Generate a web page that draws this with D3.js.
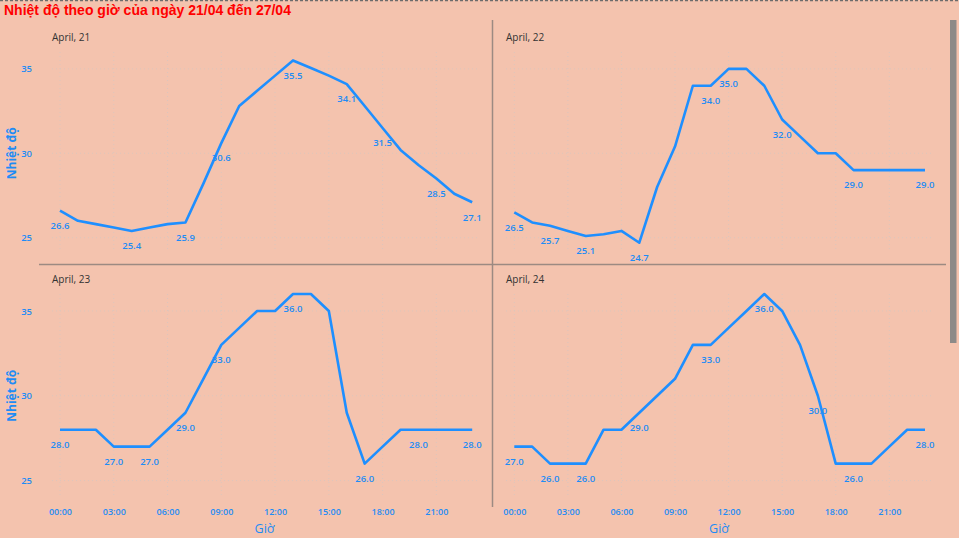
<!DOCTYPE html>
<html><head><meta charset="utf-8">
<script src="https://cdn.jsdelivr.net/npm/d3@7"></script>
<style>html,body{margin:0;padding:0;background:#F4C3AE;overflow:hidden}svg{display:block}</style>
</head><body>
<script>
// ---- data ----
const hours = [0,1,2,3,4,5,6,7,8,9,10,11,12,13,14,15,16,17,18,19,20,21,22,23];
const tickHours = [0,3,6,9,12,15,18,21];
const tickLabels = ["00:00","03:00","06:00","09:00","12:00","15:00","18:00","21:00"];
const yTicks = [25,30,35];
const dayTitles = ["April, 21","April, 22","April, 23","April, 24"];
const apr21 = [26.6,26.0,25.8,25.6,25.4,25.6,25.8,25.9,28.2,30.6,32.8,33.7,34.6,35.5,35.05,34.6,34.1,32.8,31.5,30.2,29.3,28.5,27.6,27.1];
const apr22 = [26.5,25.9,25.7,25.4,25.1,25.2,25.4,24.7,28.0,30.4,34.0,34.0,35.0,35.0,34.0,32.0,31.0,30.0,30.0,29.0,29.0,29.0,29.0,29.0];
const apr23 = [28.0,28.0,28.0,27.0,27.0,27.0,28.0,29.0,31.0,33.0,34.0,35.0,35.0,36.0,36.0,35.0,29.0,26.0,27.0,28.0,28.0,28.0,28.0,28.0];
const apr24 = [27.0,27.0,26.0,26.0,26.0,28.0,28.0,29.0,30.0,31.0,33.0,33.0,34.0,35.0,36.0,35.0,33.0,30.0,26.0,26.0,26.0,27.0,28.0,28.0];
const labels21 = [0,4,7,9,13,16,18,21,23];
const labels22 = [0,2,4,7,11,12,15,19,23];
const labels23 = [0,3,5,7,9,13,17,20,23];
const labels24 = [0,2,4,7,11,14,17,19,23];
const titleText = "Nhiệt độ theo giờ của ngày 21/04 đến 27/04";
const yAxisTitle = "Nhiệt độ";
const xAxisTitle = "Giờ";

// ---- layout ----
const W = 959, H = 538;
const BLUE = "#1E8CF5";
const yDomain = [24.15, 36.0];
const panels = [
  {vals: apr21, labs: labels21, title: dayTitles[0], xr:[60,472.2], yr:[252,52], gx:[52,477], left:true, bottom:false},
  {vals: apr22, labs: labels22, title: dayTitles[1], xr:[514.3,925], yr:[252,52], gx:[506,932], left:false, bottom:false},
  {vals: apr23, labs: labels23, title: dayTitles[2], xr:[60,472.2], yr:[495,294], gx:[52,477], left:true, bottom:true},
  {vals: apr24, labs: labels24, title: dayTitles[3], xr:[514.3,925], yr:[495,294], gx:[506,932], left:false, bottom:true}
];

const svg = d3.select("body").append("svg").attr("width", W).attr("height", H);
svg.append("rect").attr("width", W).attr("height", H).attr("fill", "#F4C3AE");

// top dashed border
svg.append("line").attr("x1",0).attr("x2",W).attr("y1",0.5).attr("y2",0.5)
  .attr("stroke","#6b6b6b").attr("stroke-width",1.5).attr("stroke-dasharray","3,2");

// title
svg.append("text").attr("x",4).attr("y",14.5).text(titleText)
  .attr("font-family","Liberation Sans, Arial, sans-serif").attr("font-weight","bold")
  .attr("font-size",14).attr("fill","#FF0000");

// dividers
svg.append("line").attr("x1",39).attr("x2",946).attr("y1",264.5).attr("y2",264.5)
  .attr("stroke","#9c8a82").attr("stroke-width",1.5);
svg.append("line").attr("x1",492.5).attr("x2",492.5).attr("y1",20).attr("y2",507)
  .attr("stroke","#9c8a82").attr("stroke-width",1.5);

// scrollbar
svg.append("rect").attr("x",950).attr("y",20).attr("width",6.5).attr("height",323).attr("fill","#8c8a88");

panels.forEach(p => {
  const x = d3.scaleLinear().domain([0,23]).range(p.xr);
  const y = d3.scaleLinear().domain(yDomain).range(p.yr);
  const g = svg.append("g");

  // grid
  g.selectAll(".vg").data(tickHours).join("line")
    .attr("x1", d => x(d)).attr("x2", d => x(d)).attr("y1", p.yr[1]).attr("y2", p.yr[0])
    .attr("stroke","#dcc6bc").attr("stroke-width",1).attr("stroke-dasharray","1,3");
  g.selectAll(".hg").data(yTicks).join("line")
    .attr("x1", p.gx[0]).attr("x2", p.gx[1]).attr("y1", d => y(d)).attr("y2", d => y(d))
    .attr("stroke","#dcc6bc").attr("stroke-width",1).attr("stroke-dasharray","1,3");

  // panel title
  g.append("text").attr("x", p.gx[0]).attr("y", p.yr[1] - 11).text(p.title)
    .attr("font-family","Open Sans, sans-serif").attr("font-size",10).attr("fill","#333");

  // y axis
  if (p.left) {
    const ya = g.append("g").attr("transform","translate(34,0)")
      .call(d3.axisLeft(y).tickValues(yTicks).tickSize(0).tickPadding(2));
    ya.select(".domain").remove();
    ya.selectAll("text").attr("font-family","Open Sans, sans-serif").attr("font-size",9.5)
      .attr("font-weight",600).attr("fill",BLUE);
    const cy = (y(25)+y(35))/2;
    g.append("text").attr("transform",`translate(11.5,${cy}) rotate(-90)`)
      .attr("text-anchor","middle").attr("dy","0.35em").text(yAxisTitle)
      .attr("font-family","Open Sans, sans-serif").attr("font-weight","bold")
      .attr("font-size",12).attr("fill",BLUE);
  }
  // x axis
  if (p.bottom) {
    const xa = g.append("g").attr("transform","translate(0,505)")
      .call(d3.axisBottom(x).tickValues(tickHours).tickSize(0).tickPadding(4)
        .tickFormat((d,i) => tickLabels[i]));
    xa.select(".domain").remove();
    xa.selectAll("text").attr("font-family","Open Sans, sans-serif").attr("font-size",9)
      .attr("font-weight",600).attr("fill",BLUE);
    g.append("text").attr("x", (p.gx[0]+p.gx[1])/2).attr("y",533)
      .attr("text-anchor","middle").text(xAxisTitle)
      .attr("font-family","Open Sans, sans-serif").attr("font-size",12.5).attr("fill",BLUE);
  }

  // line
  const line = d3.line().x((d,i) => x(hours[i])).y(d => y(d));
  g.append("path").datum(p.vals).attr("d", line).attr("fill","none")
    .attr("stroke","#1E8FFF").attr("stroke-width",2.6).attr("stroke-linejoin","round");

  // labels
  g.selectAll(".lab").data(p.labs).join("text")
    .attr("x", i => x(hours[i])).attr("y", i => y(p.vals[i]) + 15).attr("dy","0.35em")
    .attr("text-anchor","middle").text(i => p.vals[i].toFixed(1))
    .attr("font-family","Open Sans, sans-serif").attr("font-size",9.5)
    .attr("font-weight",600).attr("fill",BLUE);
});
</script>
</body></html>
